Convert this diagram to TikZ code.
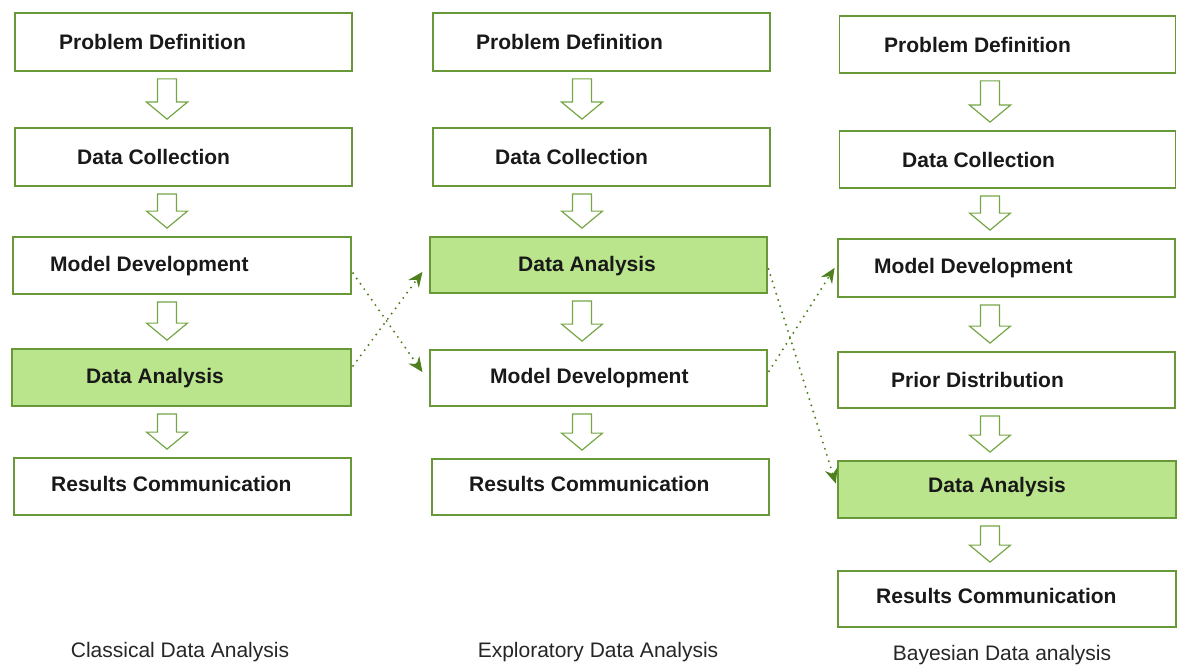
\documentclass[tikz,border=0pt]{standalone}
\usepackage{fontspec}
\setmainfont{Liberation Sans}
\usetikzlibrary{calc,arrows.meta}
\definecolor{boxgreen}{RGB}{104,152,56}
\definecolor{fillgreen}{RGB}{186,229,140}
\definecolor{arrowgreen}{RGB}{116,166,70}
\definecolor{dotgreen}{RGB}{78,128,30}
\definecolor{txt}{RGB}{25,25,25}
\tikzset{
  box/.style={draw=boxgreen,line width=1.8pt,fill=white,inner sep=0pt},
  hbox/.style={box,fill=fillgreen},
  lbl/.style={anchor=west,inner sep=0pt,text=txt,font=\fontsize{21}{25}\selectfont\bfseries},
  captext/.style={inner sep=0pt,text=black!85,font=\fontsize{21}{25}\selectfont},
  harrow/.style={draw=arrowgreen,line width=1.2pt,fill=white,line join=miter},
  dotarrow/.style={draw=dotgreen,line width=2.2pt,line cap=round,dash pattern=on 0pt off 6.5pt,
    -{Stealth[length=15pt,width=13pt,inset=5pt,line cap=butt]},shorten <=2pt,shorten >=1pt}
}
\newcommand\hollowarrow[3]{%
  \draw[harrow] let \p1=(#1.south), \p2=(#2.north) in
    (#3pt-9.5pt,\y1-7pt) -- (#3pt+9.5pt,\y1-7pt) -- (#3pt+9.5pt,\y2+25pt)
    -- (#3pt+20.5pt,\y2+25pt) -- (#3pt,\y2+8pt) -- (#3pt-20.5pt,\y2+25pt)
    -- (#3pt-9.5pt,\y2+25pt) -- cycle;}
\begin{document}
\begin{tikzpicture}[x=1pt,y=-1pt]
\useasboundingbox (0,0) rectangle (1177,666);
% column 1
\node[box,minimum width=337pt,minimum height=58pt] (apd) at (183.5,42) {};
\node[box,minimum width=337pt,minimum height=58pt] (adc) at (183.5,157) {};
\node[box,minimum width=338pt,minimum height=57pt] (amd) at (182,265.5) {};
\node[hbox,minimum width=339pt,minimum height=57pt] (ada) at (181.5,377.5) {};
\node[box,minimum width=337pt,minimum height=57pt] (arc) at (182.5,486.5) {};
\node[lbl] at (59,42) {Problem Definition};
\node[lbl] at (77,157) {Data Collection};
\node[lbl] at (50,266) {Model Development};
\node[lbl] at (86,378) {Data Analysis};
\node[lbl] at (51,484) {Results Communication};
\hollowarrow{apd}{adc}{167}
\hollowarrow{adc}{amd}{167}
\hollowarrow{amd}{ada}{167}
\hollowarrow{ada}{arc}{167}
% column 2
\node[box,minimum width=337pt,minimum height=58pt] (bpd) at (601.5,42) {};
\node[box,minimum width=337pt,minimum height=58pt] (bdc) at (601.5,157) {};
\node[hbox,minimum width=337pt,minimum height=56pt] (bda) at (598.5,265) {};
\node[box,minimum width=337pt,minimum height=56pt] (bmd) at (598.5,378) {};
\node[box,minimum width=337pt,minimum height=56pt] (brc) at (600.5,487) {};
\node[lbl] at (476,42) {Problem Definition};
\node[lbl] at (495,157) {Data Collection};
\node[lbl] at (518,266) {Data Analysis};
\node[lbl] at (490,378) {Model Development};
\node[lbl] at (469,484) {Results Communication};
\hollowarrow{bpd}{bdc}{582}
\hollowarrow{bdc}{bda}{582}
\hollowarrow{bda}{bmd}{582}
\hollowarrow{bmd}{brc}{582}
% column 3
\node[box,minimum width=336pt,minimum height=57pt] (cpd) at (1007.5,44.5) {};
\node[box,minimum width=336pt,minimum height=57pt] (cdc) at (1007.5,159.5) {};
\node[box,minimum width=337pt,minimum height=58pt] (cmd) at (1006.5,268) {};
\node[box,minimum width=337pt,minimum height=56pt] (cpr) at (1006.5,380) {};
\node[hbox,minimum width=338pt,minimum height=57pt] (cda) at (1007,489.5) {};
\node[box,minimum width=338pt,minimum height=56pt] (crc) at (1007,599) {};
\node[lbl] at (884,45) {Problem Definition};
\node[lbl] at (902,160) {Data Collection};
\node[lbl] at (874,268) {Model Development};
\node[lbl] at (891,380) {Prior Distribution};
\node[lbl] at (928,487) {Data Analysis};
\node[lbl] at (876,596) {Results Communication};
\hollowarrow{cpd}{cdc}{990}
\hollowarrow{cdc}{cmd}{990}
\hollowarrow{cmd}{cpr}{990}
\hollowarrow{cpr}{cda}{990}
\hollowarrow{cda}{crc}{990}
% dotted connectors
\draw[dotarrow] ([yshift=-6pt]amd.east) -- ([xshift=-6pt,yshift=5pt]bmd.west);
\draw[dotarrow] ([yshift=10pt]ada.east) -- ([xshift=-6pt,yshift=-6pt]bda.west);
\draw[dotarrow] ([yshift=-2pt]bda.east) -- ([xshift=-1pt,yshift=5pt]cda.west);
\draw[dotarrow] ([yshift=5pt]bmd.east) -- ([xshift=-2pt,yshift=1pt]cmd.west);
% captions
\node[captext] (c1) at (180,652) {Classical Data Analysis};
\node[captext] (c2) at (598,652) {Exploratory Data Analysis};
\node[captext] (c3) at (1002,655) {Bayesian Data analysis};
\end{tikzpicture}
\end{document}
